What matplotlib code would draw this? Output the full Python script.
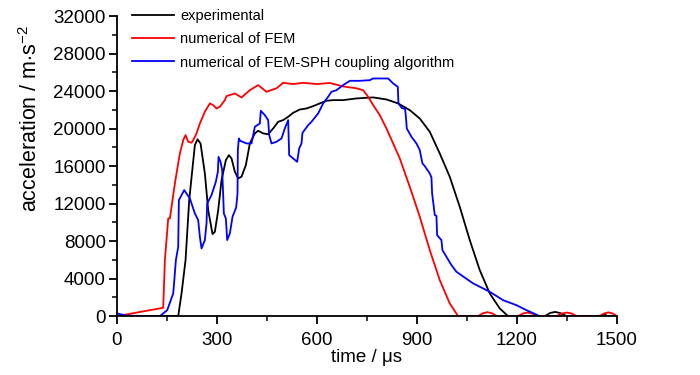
import matplotlib.pyplot as plt
from matplotlib.ticker import MultipleLocator

plt.rcParams['font.family'] = ['Liberation Sans', 'DejaVu Sans']
plt.rcParams['mathtext.fontset'] = 'custom'
plt.rcParams['mathtext.rm'] = 'Liberation Sans'
plt.rcParams['mathtext.it'] = 'Liberation Sans'

# experimental curve
t_exp = [0, 184, 194, 206, 217, 234, 242, 251, 264, 274, 287, 294, 304, 314, 327,
         336, 344, 354, 364, 374, 387, 399, 414, 424, 439, 454, 469, 484, 499, 514,
         529, 549, 569, 589, 609, 629, 649, 679, 719, 769, 809, 844, 879, 909, 939,
         969, 999, 1029, 1059, 1089, 1119, 1149, 1174, 1284, 1300, 1315, 1330, 1350,
         1452, 1462, 1472, 1500]
a_exp = [0, 0, 2420, 5970, 12370, 18240, 18860, 18420, 15220, 11300, 8750, 9000,
         11300, 14510, 16640, 17170, 16820, 15400, 14690, 14870, 16110, 18420, 19490,
         19770, 19490, 19400, 20020, 20730, 20910, 21260, 21690, 22040, 22150, 22400,
         22690, 22970, 23040, 23040, 23220, 23330, 23110, 22690, 21970, 21080, 19660,
         17350, 14860, 11660, 8110, 4910, 2420, 820, 0, 0, 330, 450, 330, 0,
         0, 220, 0, 0]

# numerical of FEM
t_fem = [0, 139, 144, 154, 159, 174, 189, 199, 206, 214, 224, 229, 239, 249, 264,
         279, 289, 299, 309, 324, 329, 354, 374, 399, 424, 449, 479, 499, 529, 559,
         599, 639, 679, 719, 739, 754, 769, 789, 809, 829, 849, 879, 909, 939, 969,
         999, 1024, 1084, 1098, 1112, 1126, 1140, 1204, 1218, 1232, 1246, 1260,
         1320, 1335, 1350, 1365, 1380, 1449, 1462, 1475, 1488, 1500]
a_fem = [0, 890, 5970, 10420, 10420, 14150, 17350, 18770, 19310, 18600, 18500, 18770,
         19490, 20550, 21800, 22690, 22500, 22150, 22330, 23040, 23470, 23750, 23330,
         24100, 24640, 23930, 24300, 24890, 24750, 24890, 24750, 24870, 24500, 24300,
         24100, 23400, 22510, 21440, 20020, 18420, 16820, 13790, 10600, 7040, 3840,
         1350, 0, 0, 300, 420, 300, 0, 0, 280, 380, 280, 0,
         0, 280, 380, 280, 0, 0, 280, 400, 280, 0]

# numerical of FEM-SPH coupling algorithm
t_sph = [0, 9, 30, 129, 151, 169, 172, 177, 184, 186, 202, 219, 234, 244, 249, 254,
         264, 269, 271, 284, 297, 303, 305, 311, 316, 318, 321, 327, 331, 339, 347,
         358, 362, 363, 366, 370, 389, 404, 414, 429, 432, 444, 454, 457, 464, 479,
         494, 504, 514, 517, 529, 541, 547, 554, 557, 574, 584, 604, 619, 634, 644,
         659, 679, 699, 729, 759, 769, 814, 829, 843, 845, 855, 865, 868, 870, 884,
         899, 909, 917, 924, 939, 944, 946, 951, 954, 959, 961, 974, 977, 989, 1004,
         1019, 1069, 1119, 1159, 1199, 1229, 1269]
a_sph = [290, 213, 50, 0, 640, 2420, 3700, 5970, 7400, 12370, 13440, 12550, 10950,
         10240, 8460, 7220, 8110, 9890, 12020, 12910, 14330, 15400, 16990, 16460,
         15570, 13800, 10950, 10420, 8110, 8820, 10600, 11600, 13100, 17700, 18950,
         18700, 18420, 18420, 20200, 20550, 21900, 21440, 20910, 19310, 18420, 18600,
         18950, 20020, 20910, 17170, 16820, 16460, 17880, 18420, 19550, 20370, 20730,
         21620, 22690, 23400, 23930, 24100, 24640, 25100, 25100, 25170, 25350, 25350,
         24820, 24460, 22690, 22200, 22100, 21000, 20020, 19130, 18420, 17700, 16290,
         16000, 15220, 14800, 13090, 11660, 10780, 10700, 8640, 8110, 7040, 6330, 5440,
         4730, 3490, 2600, 1700, 1170, 640, 0]

fig = plt.figure(figsize=(7, 3.75), dpi=100)
ax = fig.add_axes([0.167, 0.157, 0.714, 0.8])

ax.plot(t_exp, a_exp, color='black', lw=1.3, label='experimental')
ax.plot(t_fem, a_fem, color='red', lw=1.3, label='numerical of FEM')
ax.plot(t_sph, a_sph, color='blue', lw=1.3, label='numerical of FEM-SPH coupling algorithm')

ax.set_xlim(0, 1500)
ax.set_ylim(0, 32000)
ax.xaxis.set_major_locator(MultipleLocator(300))
ax.xaxis.set_minor_locator(MultipleLocator(150))
ax.yaxis.set_major_locator(MultipleLocator(4000))
ax.yaxis.set_minor_locator(MultipleLocator(2000))
ax.spines['top'].set_visible(False)
ax.spines['right'].set_visible(False)
for s in ['left', 'bottom']:
    ax.spines[s].set_linewidth(1.3)
ax.tick_params(which='major', direction='out', length=6, width=1.3, labelsize=13.5)
ax.tick_params(axis='x', which='major', pad=5.5)
ax.tick_params(axis='y', which='major', pad=2)
ax.tick_params(which='minor', direction='out', length=3.5, width=1.1)

ax.set_xlabel('time / \u03bcs', fontsize=13.5, labelpad=0)
ax.set_ylabel(r'acceleration / m$\cdot$s$^{-2}$', fontsize=15.5)
ax.yaxis.set_label_coords(-0.15, 0.66)

ax.legend(loc='upper left', bbox_to_anchor=(0.03, 1.025), frameon=False,
          fontsize=10.5, handlelength=2.9, handletextpad=0.4, borderpad=0,
          borderaxespad=0, labelspacing=0.65)

fig.savefig('out.png', dpi=100)
